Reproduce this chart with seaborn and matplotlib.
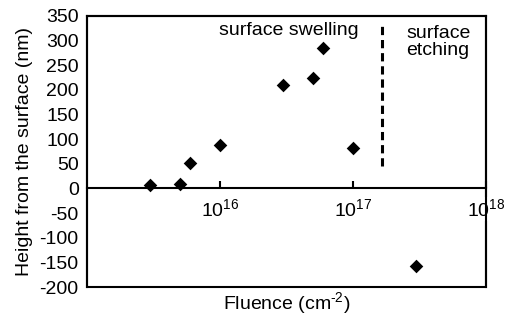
import matplotlib
matplotlib.use("Agg")
import matplotlib.pyplot as plt
import seaborn as sns
import pandas as pd
import numpy as np
from matplotlib.ticker import FixedLocator, NullLocator, LogFormatterSciNotation

# Data
fluence = [3e15, 5e15, 6e15, 1e16, 3e16, 5e16, 6e16, 1e17, 3e17]
height = [7, 9, 51, 88, 210, 224, 285, 82, -157]
boundary_fluence = 1.65e17
boundary_range = [45, 330]
x_ticks = [1e16, 1e17, 1e18]
y_ticks = list(range(-200, 351, 50))

df = pd.DataFrame({"Fluence": fluence, "Height": height})

sns.set_theme(style="white")
plt.rcParams['font.family'] = ['Liberation Sans', 'DejaVu Sans']
plt.rcParams['mathtext.fontset'] = 'custom'
plt.rcParams['mathtext.rm'] = 'Liberation Sans'
plt.rcParams['mathtext.it'] = 'Liberation Sans:italic'
plt.rcParams['mathtext.bf'] = 'Liberation Sans:bold'

fig = plt.figure(figsize=(5.06, 3.2), dpi=100)
ax = fig.add_axes([87/506, (320-287)/320, (486-87)/506, (287-16)/320])

sns.scatterplot(data=df, x="Fluence", y="Height", marker="D", s=48,
                color="black", edgecolor="black", linewidth=0, ax=ax, zorder=5)

ax.plot([boundary_fluence, boundary_fluence], boundary_range, color="black",
        lw=2.2, dashes=(2.7, 1.6), zorder=4)

ax.set_xscale("log")
ax.set_xlim(1e15, 1e18)
ax.set_ylim(-200, 350)

fs = 14
# Frame
for side in ["top", "left", "right"]:
    ax.spines[side].set_visible(True)
    ax.spines[side].set_linewidth(1.5)
    ax.spines[side].set_color("black")
ax.spines["bottom"].set_position(("data", 0))
ax.spines["bottom"].set_linewidth(1.5)
ax.spines["bottom"].set_color("black")
ax.patch.set_edgecolor("black")
ax.patch.set_linewidth(1.5)

ax.xaxis.set_major_locator(FixedLocator(x_ticks))
ax.xaxis.set_minor_locator(NullLocator())
ax.xaxis.set_major_formatter(LogFormatterSciNotation())
ax.yaxis.set_major_locator(FixedLocator(y_ticks))
ax.set_yticklabels([str(v) for v in y_ticks])

ax.tick_params(axis="x", direction="in", length=5, width=1.5, pad=7,
               labelsize=fs, colors="black", bottom=True)
ax.tick_params(axis="y", length=0, pad=6, labelsize=fs, labelcolor="black")

for lbl in ax.get_xticklabels():
    lbl.set_bbox(dict(facecolor="white", edgecolor="none", pad=0.5))

ax.set_xlabel("")
ax.set_ylabel("Height from the surface (nm)", fontsize=fs, color="black", labelpad=5)
fig.text((87+486)/2/506, 1-303/320, r"Fluence (cm$^{\text{-2}}$)", fontsize=fs,
         ha="center", va="center", color="black")

ax.text(0.505, 0.945, "surface swelling", transform=ax.transAxes, fontsize=fs,
        ha="center", va="center", color="black")
ax.text(0.88, 0.905, "surface\netching", transform=ax.transAxes, fontsize=fs,
        ha="center", va="center", color="black", linespacing=1.0)

fig.savefig("out.png", dpi=100, facecolor="white")
